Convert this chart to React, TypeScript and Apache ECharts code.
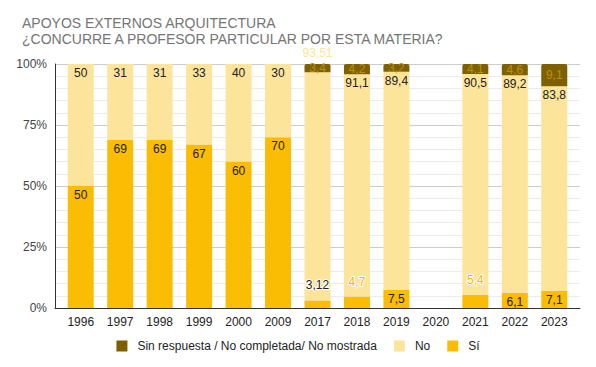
import React, { useEffect, useRef } from "react";
import * as echarts from "echarts";

const years = ["1996", "1997", "1998", "1999", "2000", "2009", "2017", "2018", "2019", "2020", "2021", "2022", "2023"];
const siValues = [50, 69, 69, 67, 60, 70, 3.12, 4.7, 7.5, null, 5.4, 6.1, 7.1];
const noValues = [50, 31, 31, 33, 40, 30, 93.51, 91.1, 89.4, null, 90.5, 89.2, 83.8];
const sinRespValues = [null, null, null, null, null, null, 3.4, 4.2, 3.2, null, 4.1, 4.6, 9.1];
const yTicks = [0, 25, 50, 75, 100];

const SERIES_NAMES = ["Sin respuesta / No completada/ No mostrada", "No", "Sí"];
const TITLE_1 = "APOYOS EXTERNOS ARQUITECTURA";
const TITLE_2 = "¿CONCURRE A PROFESOR PARTICULAR POR ESTA MATERIA?";
const C_SI = "#fbbc04";
const C_NO = "#fde49b";
const C_SR = "#7f6000";
const FONT = "Arial, 'Liberation Sans', sans-serif";

const fmt = (v: number) => String(v).replace(".", ",");

export default function App() {
  const ref = useRef<HTMLDivElement>(null);
  useEffect(() => {
    if (!ref.current) return;
    const chart = echarts.init(ref.current, null, { renderer: "svg" });
    const totals = years.map((_, i) => (siValues[i] ?? 0) + (noValues[i] ?? 0) + (sinRespValues[i] ?? 0));
    const norm = (v: number | null, i: number) => (v == null ? null : (v * 100) / totals[i]);

    const siData = siValues.map((v, i) => {
      if (v == null) return null;
      const small = v < 6;
      return {
        value: norm(v, i),
        raw: v,
        label: small
          ? {
              position: "top",
              distance: 9,
              color: v < 4 ? "#222" : "#f4b400",
              textBorderColor: "#fff",
              textBorderWidth: 2,
            }
          : { position: "insideTop", distance: 3, color: "#222" },
      };
    });
    const noData = noValues.map((v, i) => {
      if (v == null) return null;
      const big = v > 93;
      return {
        value: norm(v, i),
        raw: v,
        label: big
          ? { position: "top", distance: 13, color: C_NO }
          : { position: "insideTop", distance: 3, color: "#222" },
      };
    });
    const srData = sinRespValues.map((v, i) => (v == null ? null : { value: norm(v, i), raw: v }));

    const labelFmt = (p: any) => (p.data && p.data.raw != null ? fmt(p.data.raw) : "");
    const titleStyle = { fontFamily: FONT, fontSize: 14, fontWeight: "normal", color: "#757575", lineHeight: 14 };

    const option: any = {
      animation: false,
      textStyle: { fontFamily: FONT },
      title: {
        text: TITLE_1,
        subtext: TITLE_2,
        left: 17,
        top: 11,
        itemGap: 2,
        textStyle: titleStyle,
        subtextStyle: titleStyle,
      },
      legend: {
        data: SERIES_NAMES,
        top: 335,
        left: "center",
        icon: "rect",
        itemWidth: 11,
        itemHeight: 11,
        itemGap: 17,
        textStyle: { fontFamily: FONT, fontSize: 12, color: "#222", padding: [0, 0, 0, 5] },
      },
      grid: [
        { left: 55, right: 16, top: 64, bottom: 59 },
        { left: 61, right: 22, top: 64, bottom: 59 },
      ],
      xAxis: [
        {
          gridIndex: 0,
          type: "value",
          min: 0,
          max: 1,
          axisLine: { show: true, onZero: false, lineStyle: { color: "#333" } },
          axisTick: { show: false },
          axisLabel: { show: false },
          splitLine: { show: false },
        },
        {
          gridIndex: 1,
          type: "category",
          data: years,
          axisLine: { show: false },
          axisTick: { show: false },
          axisLabel: { color: "#222", fontSize: 12, margin: 8, fontFamily: FONT },
        },
      ],
      yAxis: [
        {
          gridIndex: 0,
          type: "value",
          min: yTicks[0],
          max: yTicks[yTicks.length - 1],
          interval: 25,
          axisLabel: { formatter: "{value}%", color: "#444", fontSize: 12, margin: 8, fontFamily: FONT },
          axisLine: { show: true, lineStyle: { color: "#333" } },
          axisTick: { show: false },
          splitLine: { lineStyle: { color: "#ccc" } },
          minorTick: { show: false, splitNumber: 5 },
          minorSplitLine: { show: true, lineStyle: { color: "#ebebeb" } },
        },
        { gridIndex: 1, type: "value", min: 0, max: 100, show: false },
      ],
      series: [
        {
          name: "Sí",
          type: "bar",
          stack: "t",
          xAxisIndex: 1,
          yAxisIndex: 1,
          barWidth: 26,
          itemStyle: { color: C_SI },
          label: { show: true, formatter: labelFmt, fontSize: 12, fontFamily: FONT },
          data: siData,
        },
        {
          name: "No",
          type: "bar",
          stack: "t",
          xAxisIndex: 1,
          yAxisIndex: 1,
          barWidth: 26,
          itemStyle: { color: C_NO },
          label: { show: true, formatter: labelFmt, fontSize: 12, fontFamily: FONT },
          data: noData,
        },
        {
          name: SERIES_NAMES[0],
          type: "bar",
          stack: "t",
          xAxisIndex: 1,
          yAxisIndex: 1,
          barWidth: 26,
          itemStyle: { color: C_SR, borderRadius: [2, 2, 0, 0] },
          label: { show: true, position: "inside", formatter: labelFmt, fontSize: 12, color: "#b8900a", fontFamily: FONT },
          data: srData,
        },
      ],
    };
    chart.setOption(option);
    return () => chart.dispose();
  }, []);
  return <div ref={ref} style={{ width: 596, height: 367, position: "absolute", left: 0, top: 0 }} />;
}
